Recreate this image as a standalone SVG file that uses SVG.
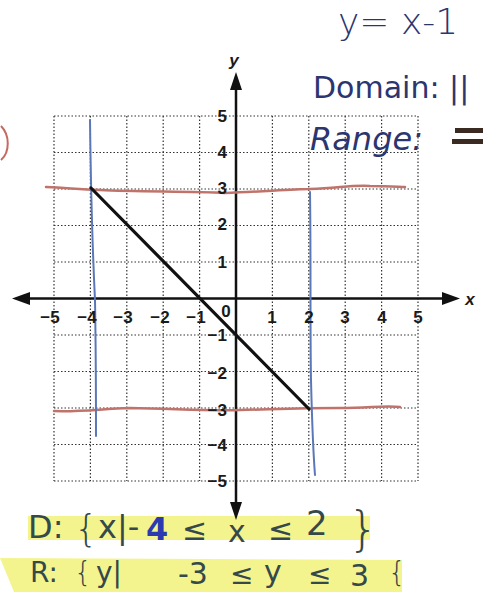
<svg xmlns="http://www.w3.org/2000/svg" width="483" height="592" viewBox="0 0 483 592">
<style>
.grid{stroke:#333;stroke-width:1.2;stroke-dasharray:1.5 2;fill:none}
.tick{font-family:"Liberation Sans",Arial,sans-serif;font-size:17px;font-weight:bold;fill:#1a1a1a}
.hand{font-family:"DejaVu Sans","Liberation Sans",sans-serif;fill:#2b3570}
.hand2{font-family:"DejaVu Sans","Liberation Sans",sans-serif;fill:#35484a}
.red{stroke:#c0736a;stroke-width:2.5;fill:none;stroke-linecap:round}
.blue{stroke:#5a78b8;stroke-width:2;fill:none;stroke-linecap:round}
</style>
<rect width="483" height="592" fill="#ffffff"/>
<g id="highlights">
<rect x="28" y="516" width="342" height="24" fill="#f2f27a" opacity="0.85"/>
<polygon points="0,558 402,560 402,592 14,592" fill="#f2f27a" opacity="0.85"/>
</g>
<g id="grid">
<path class="grid" d="M54,116V481M90.4,116V481M126.8,116V481M163.2,116V481M199.6,116V481M272.4,116V481M308.8,116V481M345.2,116V481M381.6,116V481M418,116V481"/>
<path class="grid" d="M54,116H418M54,152.5H418M54,189H418M54,225.5H418M54,262H418M54,335H418M54,371.5H418M54,408H418M54,444.5H418M54,481H418"/>
</g>
<g id="connectors">
<g id="x-axis">
<line x1="24" y1="298.5" x2="448" y2="298.5" stroke="#111" stroke-width="2.5"/>
<polygon points="12,298.5 30,292 30,305" fill="#111"/>
<polygon points="460,298.5 442,292 442,305" fill="#111"/>
</g>
<g id="y-axis">
<line x1="236" y1="84" x2="236" y2="508" stroke="#111" stroke-width="2.5"/>
<polygon points="236,72 230,90 242,90" fill="#111"/>
<polygon points="236,520 230,502 242,502" fill="#111"/>
</g>
<g id="red-lines">
<path class="red" d="M46,187 C70,188 80,190 100,190 C140,192 190,191 225,193 C260,192 290,189 310,189 C340,188 350,185 370,186 C390,186 400,187 405,187"/>
<path class="red" d="M54,411 C80,412 100,409 130,408 C180,409 210,411 240,410 C280,409 300,408 340,408 C370,408 385,405 400,407"/>
</g>
<g id="blue-lines">
<path class="blue" d="M90,120 C91,200 93,260 95,300 C96,360 96,400 96,436"/>
<path class="blue" d="M310,192 C311,260 310,320 311,380 C312,420 313,450 315,475"/>
</g>
<line id="graph-line" x1="91" y1="188" x2="309" y2="409" stroke="#111" stroke-width="3.2" stroke-linecap="round"/>
</g>
<g id="labels">
<text x="470" y="305" class="tick" font-style="italic" font-size="18" text-anchor="middle">x</text>
<text x="234" y="66" class="tick" font-style="italic" font-size="18" text-anchor="middle">y</text>
<g text-anchor="middle">
<text class="tick" x="50" y="323">−5</text>
<text class="tick" x="87" y="323">−4</text>
<text class="tick" x="123" y="323">−3</text>
<text class="tick" x="160" y="323">−2</text>
<text class="tick" x="196" y="323">−1</text>
<text class="tick" x="226" y="317">0</text>
<text class="tick" x="272" y="323">1</text>
<text class="tick" x="309" y="323">2</text>
<text class="tick" x="345" y="323">3</text>
<text class="tick" x="382" y="323">4</text>
<text class="tick" x="418" y="323">5</text>
</g>
<g text-anchor="end">
<text class="tick" x="227" y="122">5</text>
<text class="tick" x="227" y="158">4</text>
<text class="tick" x="227" y="194">3</text>
<text class="tick" x="227" y="230">2</text>
<text class="tick" x="227" y="268">1</text>
<text class="tick" x="227" y="341">−1</text>
<text class="tick" x="227" y="379">−2</text>
<text class="tick" x="227" y="416">−3</text>
<text class="tick" x="227" y="451">−4</text>
<text class="tick" x="227" y="487">−5</text>
</g>
</g>
<g id="notes">
<text class="hand" x="338" y="34" font-size="36" font-weight="300">y=  x-1</text>
<text class="hand" x="313" y="98" font-size="30">Domain:  ||</text>
<text class="hand" x="310" y="150" font-size="32" font-style="italic">Range:</text>
<rect x="455" y="128" width="28" height="5" fill="#3a2a22"/>
<rect x="452" y="139" width="31" height="5" fill="#3a2a22"/>
<path d="M1,126 C10,135 10,152 1,160" stroke="#c46a5e" stroke-width="2" fill="none"/>
</g>
<g id="domain-range">
<text class="hand2" x="28" y="538" font-size="32">D:</text>
<text class="hand2" x="74" y="541" font-size="38" font-weight="200">{</text>
<text class="hand2" x="98" y="538" font-size="32">x|-</text>
<text x="146" y="540" font-size="32" font-weight="bold" fill="#2b3ab0" font-family="DejaVu Sans,sans-serif">4</text>
<text class="hand2" x="182" y="540" font-size="30">≤</text>
<text class="hand2" x="228" y="542" font-size="30">x</text>
<text class="hand2" x="268" y="540" font-size="30">≤</text>
<text class="hand2" x="306" y="535" font-size="34">2</text>
<text class="hand2" x="348" y="546" font-size="48" font-weight="200">}</text>
<text class="hand2" x="30" y="582" font-size="28">R:</text>
<text class="hand2" x="74" y="582" font-size="28" font-weight="200">{</text>
<text class="hand2" x="96" y="582" font-size="28">y|</text>
<text class="hand2" x="178" y="584" font-size="30">-3</text>
<text class="hand2" x="230" y="584" font-size="28">≤</text>
<text class="hand2" x="264" y="582" font-size="30">y</text>
<text class="hand2" x="308" y="584" font-size="28">≤</text>
<text class="hand2" x="350" y="586" font-size="30">3</text>
<text class="hand2" x="388" y="582" font-size="28" font-weight="200">{</text>
</g>
</svg>
